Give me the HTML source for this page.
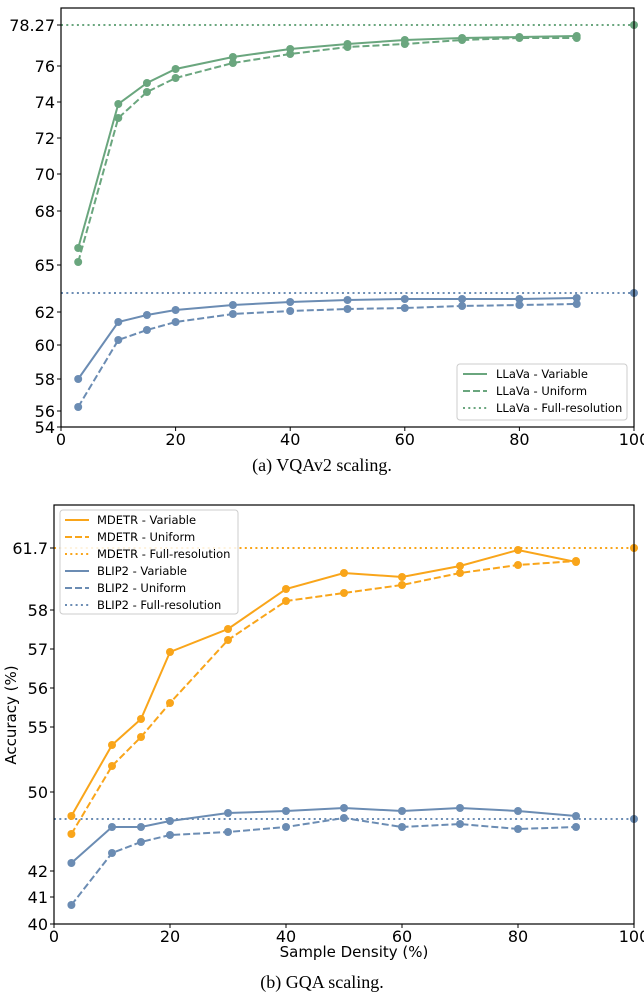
<!DOCTYPE html>
<html><head><meta charset="utf-8"><style>
body{margin:0;background:#fff;width:644px;height:997px;overflow:hidden}
svg{display:block}
text{font-family:"DejaVu Sans",sans-serif;fill:#000}
.cap{font-family:"Liberation Serif",serif;font-size:18px}
</style></head><body>
<svg id="s" width="644" height="997" xmlns="http://www.w3.org/2000/svg"></svg>
<script>
const s=document.getElementById('s');let h='';
const G='#6aa67e',B='#6b8cb3',O='#f9a51a';
const xs=[3,10,15,20,30,40,50,60,70,80,90];
function series(x0,sc,ys,c,dash){let p=xs.map((x,i)=>(x0+x*sc).toFixed(1)+','+ys[i]).join(' ');
h+=`<polyline points="${p}" fill="none" stroke="${c}" stroke-width="2" ${dash?'stroke-dasharray="7,3"':''}/>`;
xs.forEach((x,i)=>h+=`<circle cx="${x0+x*sc}" cy="${ys[i]}" r="4" fill="${c}"/>`);}
function hl(x1,x2,y,c){h+=`<line x1="${x1}" x2="${x2}" y1="${y}" y2="${y}" stroke="${c}" stroke-width="2" stroke-dasharray="2,3.3"/><circle cx="${x2}" cy="${y}" r="4" fill="${c}"/>`;}
function axes(l,t,r,b,yt,x0,sc){
h+=`<rect x="${l}" y="${t}" width="${r-l}" height="${b-t}" fill="none" stroke="#000" stroke-width="1.2"/>`;
yt.forEach(([v,y])=>{h+=`<line x1="${l-4}" x2="${l}" y1="${y}" y2="${y}" stroke="#000"/><text x="${l-6}" y="${y+6}" font-size="16" text-anchor="end">${v}</text>`});
[0,20,40,60,80,100].forEach(v=>{let x=x0+v*sc;h+=`<line x1="${x}" x2="${x}" y1="${b}" y2="${b+4}" stroke="#000"/><text x="${x}" y="${b+18}" font-size="16" text-anchor="middle">${v}</text>`});}
// top
hl(61,634,25,G);hl(61,634,293,B);
series(61,5.73,[248,104,83,69,57,49,44,40,38,37,36],G,0);
series(61,5.73,[262,118,92,78,63,54,47,44,40,38,38],G,1);
series(61,5.73,[379,322,315,310,305,302,300,299,299,299,298],B,0);
series(61,5.73,[407,340,330,322,314,311,309,308,306,305,304],B,1);
axes(61,8,634,427,[['78.27',25],[76,66],[74,102],[72,138],[70,174],[68,211],[65,265],[62,312],[60,345],[58,379],[56,411],[54,427]],61,5.73);
h+=`<rect x="457" y="364" width="170" height="56" rx="3" fill="#fff" fill-opacity=".85" stroke="#ccc"/>`;
[['',374,'LLaVa - Variable'],['7,3',391,'LLaVa - Uniform'],['2,3.3',408,'LLaVa - Full-resolution']].forEach(([d,y,t])=>{h+=`<line x1="463" x2="487" y1="${y}" y2="${y}" stroke="${G}" stroke-width="2" stroke-dasharray="${d}"/><text x="496" y="${y+4}" font-size="11.5">${t}</text>`});
h+=`<text class="cap" x="322" y="471" text-anchor="middle">(a) VQAv2 scaling.</text>`;
// bottom
hl(54,634,548,O);hl(54,634,819,B);
series(54,5.8,[816,745,719,652,629,589,573,577,566,550,562],O,0);
series(54,5.8,[834,766,737,703,640,601,593,585,573,565,561],O,1);
series(54,5.8,[863,827,827,821,813,811,808,811,808,811,816],B,0);
series(54,5.8,[905,853,842,835,832,827,818,827,824,829,827],B,1);
axes(54,505,634,924,[['61.7',548],[58,610],[57,649],[56,688],[55,727],[50,792],[42,871],[41,897],[40,924]],54,5.8);
h+=`<rect x="60" y="510" width="178" height="104" rx="3" fill="#fff" fill-opacity=".85" stroke="#ccc"/>`;
[[O,'',520,'MDETR - Variable'],[O,'7,3',537,'MDETR - Uniform'],[O,'2,3.3',554,'MDETR - Full-resolution'],[B,'',571,'BLIP2 - Variable'],[B,'7,3',588,'BLIP2 - Uniform'],[B,'2,3.3',605,'BLIP2 - Full-resolution']].forEach(([c,d,y,t])=>{h+=`<line x1="65" x2="89" y1="${y}" y2="${y}" stroke="${c}" stroke-width="2" stroke-dasharray="${d}"/><text x="97" y="${y+4}" font-size="11.5">${t}</text>`});
h+=`<text x="354" y="957" font-size="15" text-anchor="middle">Sample Density (%)</text>`;
h+=`<text transform="translate(16,715) rotate(-90)" font-size="15" text-anchor="middle">Accuracy (%)</text>`;
h+=`<text class="cap" x="322" y="988" text-anchor="middle">(b) GQA scaling.</text>`;
s.innerHTML=h;
</script>
</body></html>
